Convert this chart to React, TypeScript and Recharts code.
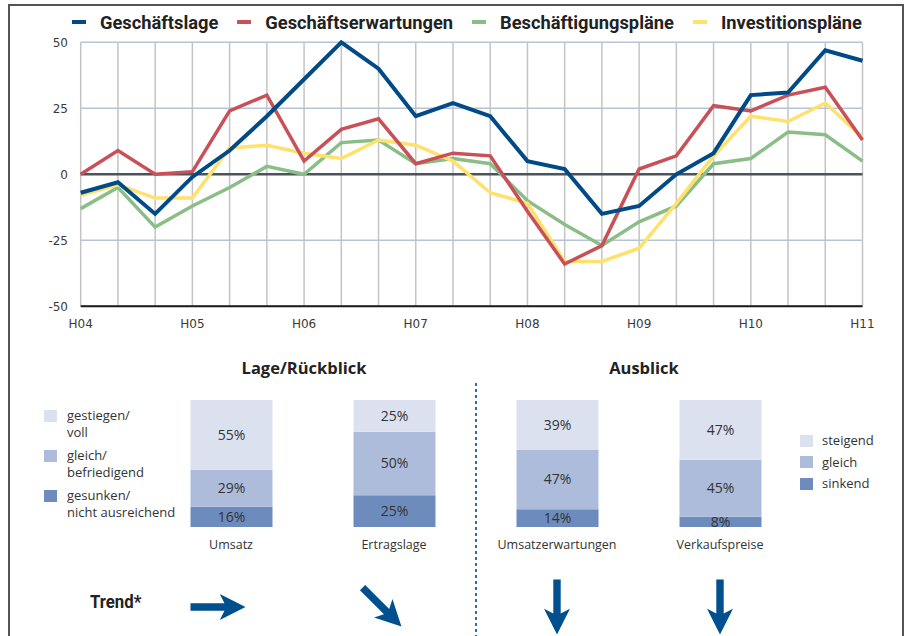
import React from 'react';
import {
  LineChart, Line, XAxis, YAxis, CartesianGrid, ReferenceLine,
  BarChart, Bar, LabelList
} from 'recharts';

// Halbjahre, nur jedes dritte Label beschriftet
const periods = ['H04', '', '', 'H05', '', '', 'H06', '', '', 'H07', '', '', 'H08', '', '', 'H09', '', '', 'H10', '', '', 'H11'];
const geschaeftslage = [-7, -3, -15, -1, 9, 22, 36, 50, 40, 22, 27, 22, 5, 2, -15, -12, 0, 8, 30, 31, 47, 43];
const geschaeftserwartungen = [0, 9, 0, 1, 24, 30, 5, 17, 21, 4, 8, 7, -14, -34, -27, 2, 7, 26, 24, 30, 33, 13];
const beschaeftigungsplaene = [-13, -5, -20, -12, -5, 3, 0, 12, 13, 4, 6, 4, -10, -19, -27, -18, -12, 4, 6, 16, 15, 5];
const investitionsplaene = [-8, -4, -9, -9, 10, 11, 8, 6, 13, 11, 5, -7, -11, -33, -33, -28, -11, 7, 22, 20, 27, 14];
const yTicks = [-50, -25, 0, 25, 50];

// Lage/Rückblick + Ausblick
const barCategories = ['Umsatz', 'Ertragslage', 'Umsatzerwartungen', 'Verkaufspreise'];
const anteilOben = [55, 25, 39, 47];
const anteilMitte = [29, 50, 47, 45];
const anteilUnten = [16, 25, 14, 8];
const trends = ['right', 'downRight', 'down', 'down'];

const legendLinks = [['gestiegen/', 'voll'], ['gleich/', 'befriedigend'], ['gesunken/', 'nicht ausreichend']];
const legendRechts = ['steigend', 'gleich', 'sinkend'];

const BLUE = '#004B87';
const RED = '#C85056';
const GREEN = '#8BBE86';
const YELLOW = '#FFE16B';
const LIGHT = '#DCE1EF';
const MID = '#ADBCDA';
const DARK = '#6E8BBD';
const ARROW = '#004F8F';

const COND = "Roboto, 'Noto Sans', sans-serif";
const SANS = "'Open Sans', 'Noto Sans', sans-serif";
const TICK = "'DejaVu Sans', sans-serif";

const series = [
  { key: 'lage', name: 'Geschäftslage', color: BLUE, values: geschaeftslage },
  { key: 'erw', name: 'Geschäftserwartungen', color: RED, values: geschaeftserwartungen },
  { key: 'besch', name: 'Beschäftigungspläne', color: GREEN, values: beschaeftigungsplaene },
  { key: 'inv', name: 'Investitionspläne', color: YELLOW, values: investitionsplaene },
];

const lineData = periods.map((p, i) => {
  const row: any = { i, period: p };
  series.forEach(s => { row[s.key] = s.values[i]; });
  return row;
});

const barData = barCategories.map((name, i) => ({
  name, unten: anteilUnten[i], mitte: anteilMitte[i], oben: anteilOben[i]
}));

const BAR_LEFT = 149.5;
const BAR_RIGHT = 104.5;
const BAND = (906 - BAR_LEFT - BAR_RIGHT) / barCategories.length;

const ANGLE: Record<string, number> = { right: 0, downRight: 45, down: 90 };
const SHIFT: Record<string, number> = { right: -13, downRight: -12, down: 0 };

function TrendArrow({ cx, cy, dir }: { cx: number; cy: number; dir: string }) {
  const pts = '-27.5,-3.7 6.5,-3.7 1.8,-13 27.5,0 1.8,13 6.5,3.7 -27.5,3.7';
  return (
    <polygon points={pts} fill={ARROW} transform={`translate(${cx} ${cy}) rotate(${ANGLE[dir]})`} />
  );
}

const pct = (v: any) => `${v}%`;
const labelStyle = { fill: '#333', fontSize: 14, fontFamily: SANS };

export default function App() {
  return (
    <div style={{ position: 'absolute', left: 0, top: 0, width: 906, height: 636, background: '#fff', overflow: 'hidden' }}>
      {/* Rahmen */}
      <div style={{ position: 'absolute', left: 8, top: 4, width: 896, height: 700, border: '2px solid #555', boxSizing: 'border-box' }} />

      {/* Legende oben */}
      <div style={{
        position: 'absolute', left: 72, top: 8, height: 28, display: 'flex', alignItems: 'center',
        fontFamily: COND, fontWeight: 700, fontSize: 18.3, color: '#222', whiteSpace: 'nowrap'
      }}>
        {series.map(s => (
          <div key={s.key} style={{ display: 'flex', alignItems: 'center', marginRight: 19 }}>
            <span style={{ display: 'inline-block', width: 14, height: 4, background: s.color, marginRight: 14 }} />
            <span>{s.name}</span>
          </div>
        ))}
      </div>

      <div style={{ position: 'absolute', left: 0, top: 0 }}>
        <LineChart width={906} height={340} data={lineData} margin={{ top: 42.3, right: 43.5, bottom: 3.7, left: 0 }}>
          <CartesianGrid horizontal={false} stroke="#C4C4C4" strokeWidth={1.5} />
          <CartesianGrid vertical={false} stroke="#B7C4D6" strokeWidth={1.5} />
          <XAxis
            dataKey="i"
            type="category"
            interval={0}
            height={30}
            tickFormatter={(v: any) => periods[v]}
            axisLine={{ stroke: '#1a1a1a', strokeWidth: 2 }}
            tickLine={false}
            tickSize={6}
            tickMargin={7.5}
            tick={{ fontSize: 12, fill: '#3a3a3a', fontFamily: TICK }}
          />
          <YAxis
            domain={[-50, 50]}
            ticks={yTicks}
            width={80.7}
            axisLine={false}
            tickLine={false}
            tickSize={6}
            tickMargin={6.7}
            tick={{ fontSize: 12, fill: '#3a3a3a', fontFamily: TICK }}
          />
          <ReferenceLine y={0} stroke="#4A535E" strokeWidth={2.5} />
          <Line dataKey="besch" stroke={GREEN} strokeWidth={3.5} dot={false} isAnimationActive={false} />
          <Line dataKey="inv" stroke={YELLOW} strokeWidth={3.5} dot={false} isAnimationActive={false} />
          <Line dataKey="erw" stroke={RED} strokeWidth={3.5} dot={false} isAnimationActive={false} />
          <Line dataKey="lage" stroke={BLUE} strokeWidth={4} dot={false} isAnimationActive={false} />
        </LineChart>
      </div>

      {/* Überschriften */}
      <div style={{ position: 'absolute', left: 204, width: 200, top: 356, textAlign: 'center', fontFamily: SANS, fontWeight: 700, fontSize: 16.5, color: '#222' }}>Lage/Rückblick</div>
      <div style={{ position: 'absolute', left: 544, width: 200, top: 356, textAlign: 'center', fontFamily: SANS, fontWeight: 700, fontSize: 16.5, color: '#222' }}>Ausblick</div>

      <div style={{ position: 'absolute', left: 0, top: 380 }}>
        <BarChart width={906} height={190} data={barData} margin={{ top: 20, right: BAR_RIGHT, bottom: 13, left: BAR_LEFT }} barSize={82}>
          <XAxis
            dataKey="name"
            interval={0}
            height={30}
            axisLine={false}
            tickLine={false}
            tickSize={6}
            tickMargin={7.5}
            tick={{ fontSize: 12.5, fill: '#333', fontFamily: SANS }}
          />
          <YAxis hide domain={[0, 100]} />
          <Bar dataKey="unten" stackId="a" fill={DARK} isAnimationActive={false}>
            <LabelList dataKey="unten" position="center" formatter={pct} style={labelStyle} />
          </Bar>
          <Bar dataKey="mitte" stackId="a" fill={MID} isAnimationActive={false}>
            <LabelList dataKey="mitte" position="center" formatter={pct} style={labelStyle} />
          </Bar>
          <Bar dataKey="oben" stackId="a" fill={LIGHT} isAnimationActive={false}>
            <LabelList dataKey="oben" position="center" formatter={pct} style={labelStyle} />
          </Bar>
        </BarChart>
      </div>

      {/* Legende links */}
      <div style={{ position: 'absolute', left: 44, top: 406.5, fontFamily: SANS, fontSize: 13, color: '#333', lineHeight: '17px' }}>
        {legendLinks.map((l, i) => (
          <div key={i} style={{ display: 'flex', marginBottom: 6 }}>
            <span style={{ width: 13, height: 12, background: [LIGHT, MID, DARK][i], marginTop: 3, marginRight: 10 }} />
            <span>{l[0]}<br />{l[1]}</span>
          </div>
        ))}
      </div>

      {/* Legende rechts */}
      <div style={{ position: 'absolute', left: 800, top: 430, fontFamily: SANS, fontSize: 13, color: '#333', lineHeight: '21.5px' }}>
        {legendRechts.map((l, i) => (
          <div key={i} style={{ display: 'flex', alignItems: 'center' }}>
            <span style={{ width: 13, height: 12, background: [LIGHT, MID, DARK][i], marginRight: 9 }} />
            <span>{l}</span>
          </div>
        ))}
      </div>

      <div style={{ position: 'absolute', left: 90, top: 591, fontFamily: COND, fontWeight: 700, fontSize: 18, color: '#222', transform: 'scaleX(0.93)', transformOrigin: '0 0' }}>Trend*</div>

      <svg width={906} height={636} style={{ position: 'absolute', left: 0, top: 0, pointerEvents: 'none' }}>
        <line x1={476} y1={383} x2={476} y2={636} stroke="#2A6EAB" strokeWidth={2} strokeDasharray="3 3" />
        {trends.map((t, i) => (
          <TrendArrow key={i} dir={t} cx={BAR_LEFT + (i + 0.5) * BAND + SHIFT[t]} cy={607} />
        ))}
      </svg>
    </div>
  );
}
